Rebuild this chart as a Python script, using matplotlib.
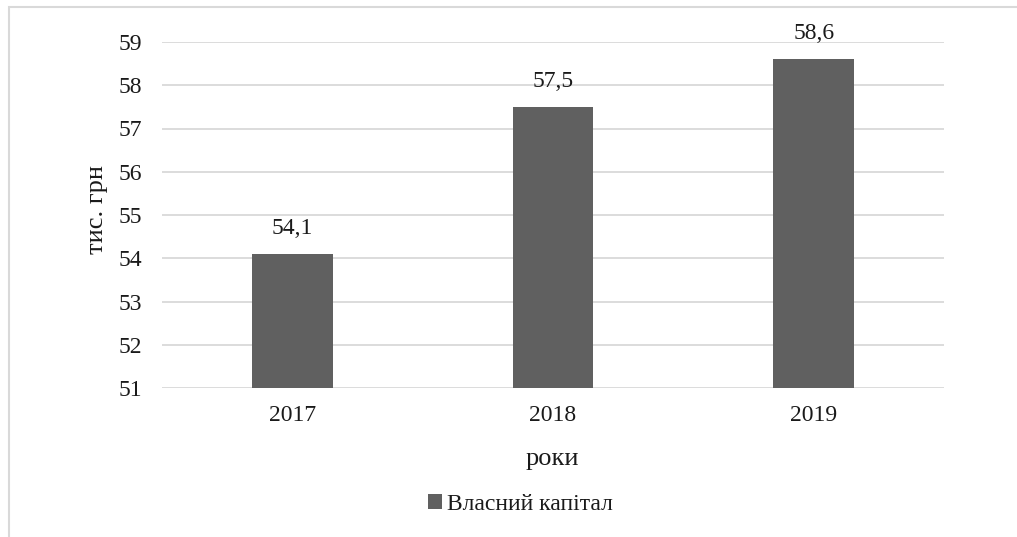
import matplotlib
matplotlib.use("Agg")
import matplotlib.pyplot as plt
from matplotlib.patches import Rectangle

years = ["2017", "2018", "2019"]
values = [54.1, 57.5, 58.6]
labels = ["54,1", "57,5", "58,6"]
series_name = "Власний капітал"

plt.rcParams['font.family'] = ['Liberation Serif', 'DejaVu Serif']

fig = plt.figure(figsize=(10.17, 5.37), dpi=100)
ax = fig.add_axes([162/1017, 1-388/537, (944-162)/1017, (388-42)/537])

bar_color = "#606060"
text_color = "#1a1a1a"
x = range(len(years))
ax.bar(x, values, width=0.31, color=bar_color, label=series_name, zorder=3)
ax.set_ylim(51, 59)
ax.set_xlim(-0.5, 2.5)
ax.set_yticks(range(51, 60))
ax.set_xticks(list(x))
ax.set_xticklabels(years)
ax.grid(axis='y', color='#d9d9d9', linewidth=1.3, zorder=0)
for s in ax.spines.values():
    s.set_visible(False)
ax.tick_params(axis='y', length=0, labelsize=17, colors=text_color, pad=14)
ax.tick_params(axis='x', length=0, labelsize=17, colors=text_color, pad=12)
for xi, v, lab in zip(x, values, labels):
    ax.text(xi, v + 0.35, lab, ha='center', va='bottom', fontsize=17, color=text_color)

fig.text(97/1017, 1-210/537, "тис. грн", rotation=90, ha='center', va='center', fontsize=19, color=text_color)
fig.text(552/1017, 1-459/537, "роки", ha='center', va='center', fontsize=19, color=text_color)

leg = fig.legend(loc='center', bbox_to_anchor=(520/1017, 1-504/537), frameon=False,
                 fontsize=17, handlelength=0.6, handleheight=0.6, handletextpad=0.2)
for t in leg.get_texts():
    t.set_color(text_color)

fig.patches.append(Rectangle((9/1017, -0.1), 1.1, 1 - 7/537 + 0.1, transform=fig.transFigure,
                             fill=False, edgecolor='#d9d9d9', linewidth=1.5))

fig.savefig("out.png", dpi=100)
